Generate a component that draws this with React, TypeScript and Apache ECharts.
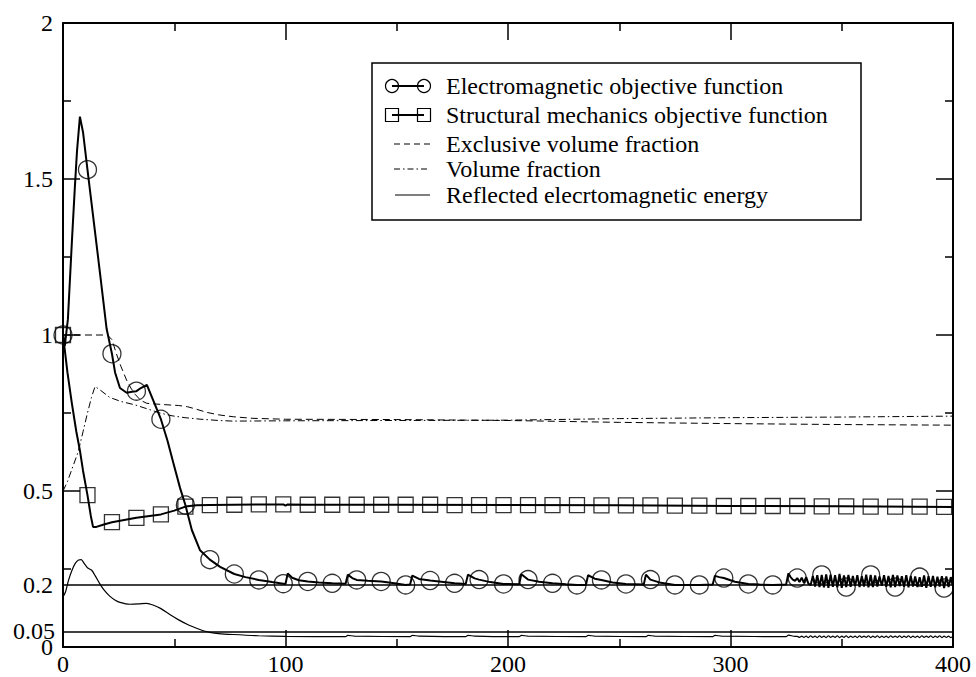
import React, { useEffect, useRef } from "react";
import * as echarts from "echarts";

const FONT = "Liberation Serif";

// axis ranges
const xRange = [0, 400];
const xStep = 100;
const yRange = [0, 2];
const yStep = 0.5;

// reference levels drawn as horizontal lines with their own labels
const refLevels = [0.2, 0.05];
const refLabels = ["0.2", "0.05"];

const legendLabels = [
  "Electromagnetic objective function",
  "Structural mechanics objective function",
  "Exclusive volume fraction",
  "Volume fraction",
  "Reflected elecrtomagnetic energy",
];

// Electromagnetic objective function (line key points, iteration -> value)
const emHead: [number, number][] = [
  [0, 1.0], [0.8, 0.965], [2.2, 1.05], [4, 1.3], [5.3, 1.47], [6.3, 1.59], [7.6, 1.7],
  [9, 1.65], [11, 1.53], [12.7, 1.43], [14.4, 1.33], [16.6, 1.2], [19.6, 1.02], [22, 0.94],
  [23.4, 0.88], [25.6, 0.83], [28.6, 0.815], [31, 0.818], [33, 0.82], [35, 0.83], [37.7, 0.84],
  [40.6, 0.79], [44, 0.73], [47, 0.66], [49.6, 0.59], [52.6, 0.51], [55, 0.455], [57.9, 0.375],
  [61.6, 0.31], [66, 0.28], [70.6, 0.257], [77, 0.234], [82, 0.224], [88, 0.215], [94, 0.208],
  [99, 0.203], [100, 0.202], [101, 0.236], [103, 0.222], [106, 0.214], [110, 0.21], [115, 0.207],
  [121, 0.204], [127, 0.203], [128, 0.232], [130, 0.221], [132, 0.215], [137, 0.212], [143, 0.21],
  [149, 0.204], [154, 0.199], [156, 0.2], [157, 0.229], [160, 0.218], [165, 0.213], [170, 0.209],
  [176, 0.204], [181, 0.202], [182, 0.232], [185, 0.22], [187, 0.216], [192, 0.208], [198, 0.202],
  [205, 0.201], [206, 0.233], [208, 0.222], [209, 0.216], [214, 0.209], [220, 0.204], [226, 0.201],
  [231, 0.199], [235, 0.199], [236, 0.23], [239, 0.219], [242, 0.215], [247, 0.207], [253, 0.202],
  [261, 0.2], [262, 0.232], [264, 0.216], [268, 0.207], [275, 0.199], [280, 0.199], [286, 0.199],
  [292, 0.2], [293, 0.228], [295, 0.224], [297, 0.221], [302, 0.209], [308, 0.202], [313, 0.2],
  [319, 0.199], [325, 0.2], [326, 0.236], [327, 0.224], [328, 0.216],
];
const emTailStart = 329;
const emTail = [
  0.212, 0.221, 0.208, 0.222, 0.206, 0.224, 0.203, 0.198, 0.228, 0.194, 0.23, 0.192,
  0.231, 0.191, 0.233, 0.19, 0.232, 0.193, 0.23, 0.191, 0.234, 0.19, 0.229, 0.192,
  0.231, 0.193, 0.228, 0.195, 0.23, 0.192, 0.227, 0.194, 0.232, 0.191, 0.231, 0.192,
  0.229, 0.194, 0.226, 0.196, 0.23, 0.193, 0.228, 0.191, 0.231, 0.192, 0.229, 0.195,
  0.227, 0.193, 0.23, 0.191, 0.228, 0.194, 0.226, 0.192, 0.224, 0.193, 0.229, 0.19,
  0.227, 0.193, 0.228, 0.191, 0.225, 0.194, 0.227, 0.189, 0.226, 0.192, 0.224, 0.195,
];
const markX = [
  0, 11, 22, 33, 44, 55, 66, 77, 88, 99, 110, 121, 132, 143, 154, 165, 176, 187, 198,
  209, 220, 231, 242, 253, 264, 275, 286, 297, 308, 319, 330, 341, 352, 363, 374, 385, 396,
];
const emMarkY = [
  1.0, 1.53, 0.94, 0.82, 0.73, 0.455, 0.28, 0.234, 0.215, 0.203, 0.21, 0.204, 0.215, 0.21,
  0.199, 0.213, 0.204, 0.216, 0.202, 0.216, 0.204, 0.199, 0.215, 0.202, 0.216, 0.199, 0.199,
  0.221, 0.202, 0.199, 0.221, 0.231, 0.192, 0.231, 0.192, 0.224, 0.189,
];

// Structural mechanics objective function
const smLine: [number, number][] = [
  [0, 1.0], [1, 0.94], [2, 0.88], [4, 0.78], [6, 0.69], [7.6, 0.63], [9, 0.565], [11, 0.487],
  [12.5, 0.42], [13.5, 0.385], [15, 0.385], [18, 0.392], [22, 0.4], [33, 0.414], [44, 0.425],
  [50, 0.437], [55, 0.45], [60, 0.454], [66, 0.455], [77, 0.456], [88, 0.457], [99, 0.457],
  [100, 0.453], [101, 0.457], [110, 0.456], [150, 0.456], [200, 0.455], [250, 0.454],
  [300, 0.452], [350, 0.451], [400, 0.449],
];
const smMarkY = [
  1.0, 0.487, 0.4, 0.414, 0.425, 0.45, 0.455, 0.456, 0.457, 0.457, 0.456, 0.456, 0.456, 0.456,
  0.456, 0.456, 0.455, 0.455, 0.455, 0.455, 0.455, 0.455, 0.454, 0.454, 0.454, 0.453, 0.453,
  0.452, 0.452, 0.452, 0.452, 0.451, 0.451, 0.45, 0.45, 0.45, 0.449,
];

// Exclusive volume fraction
const exclLine: [number, number][] = [
  [0, 1.0], [20, 1.0], [22, 0.985], [24, 0.94], [26, 0.9], [28.6, 0.855], [30.5, 0.83],
  [32.4, 0.81], [35, 0.79], [37.7, 0.781], [45, 0.777], [52, 0.774], [56, 0.77], [60, 0.762],
  [64.6, 0.752], [70, 0.744], [76.5, 0.738], [85, 0.733], [100, 0.73], [150, 0.729],
  [200, 0.726], [250, 0.72], [300, 0.716], [350, 0.713], [400, 0.711],
];

// Volume fraction
const volLine: [number, number][] = [
  [0, 0.5], [2, 0.53], [4, 0.57], [6.8, 0.625], [9, 0.69], [11, 0.75], [12.8, 0.8],
  [14.4, 0.835], [17, 0.822], [21, 0.8], [26, 0.787], [32.4, 0.776], [38, 0.763],
  [43.6, 0.75], [49, 0.741], [54.8, 0.735], [62, 0.73], [70, 0.726], [76.4, 0.724],
  [100, 0.725], [150, 0.726], [200, 0.727], [250, 0.732], [300, 0.735], [350, 0.737],
  [400, 0.74],
];

// Reflected electromagnetic energy
const refHead: [number, number][] = [
  [0, 0.16], [1.2, 0.178], [2.4, 0.212], [4, 0.245], [5.5, 0.268], [7, 0.279], [8.2, 0.28],
  [9.5, 0.268], [11, 0.254], [12.9, 0.246], [14.5, 0.228], [16.5, 0.203], [18.5, 0.182],
  [21, 0.163], [23.5, 0.15], [25.6, 0.143], [30, 0.137], [34, 0.138], [37.6, 0.14],
  [41, 0.133], [44, 0.123], [48, 0.104], [52, 0.087], [56, 0.072], [60, 0.06], [63, 0.052],
  [66, 0.047], [70, 0.043], [76.4, 0.04], [88, 0.036], [100, 0.034], [127, 0.033],
  [128, 0.037], [131, 0.035], [156, 0.033], [157, 0.037], [160, 0.035], [181, 0.033],
  [182, 0.037], [185, 0.035], [205, 0.033], [206, 0.037], [209, 0.035], [235, 0.033],
  [236, 0.037], [239, 0.035], [262, 0.033], [263, 0.037], [266, 0.035], [292, 0.033],
  [293, 0.037], [296, 0.035], [325, 0.033], [326, 0.038], [329, 0.034],
];
const refTailStart = 330;
const refTail = [
  0.034, 0.031, 0.035, 0.031, 0.035, 0.03, 0.036, 0.031, 0.035, 0.03, 0.036, 0.031,
  0.035, 0.03, 0.036, 0.031, 0.035, 0.031, 0.036, 0.03, 0.035, 0.031, 0.036, 0.03,
  0.035, 0.031, 0.035, 0.03, 0.036, 0.031, 0.035, 0.031, 0.036, 0.03, 0.035, 0.031,
  0.036, 0.03, 0.035, 0.031, 0.035, 0.03, 0.036, 0.031, 0.035, 0.031, 0.036, 0.03,
  0.035, 0.031, 0.036, 0.03, 0.035, 0.031, 0.035, 0.03, 0.036, 0.031, 0.035, 0.031,
  0.036, 0.03, 0.035, 0.031, 0.036, 0.03, 0.035, 0.031, 0.035, 0.03, 0.034,
];

const BLACK = "#000";

function axisCommon(showLabels: boolean, isX: boolean) {
  return {
    type: "value" as const,
    min: isX ? xRange[0] : yRange[0],
    max: isX ? xRange[1] : yRange[1],
    interval: isX ? xStep : yStep,
    axisLine: { show: true, onZero: false, lineStyle: { color: BLACK, width: 2 } },
    axisTick: { show: true, inside: true, length: 17, lineStyle: { color: BLACK, width: 1.5 } },
    minorTick: { show: true, splitNumber: 2, length: 8, lineStyle: { color: BLACK, width: 1.5 } },
    splitLine: { show: false },
    minorSplitLine: { show: false },
    axisLabel: {
      show: showLabels,
      color: BLACK,
      fontFamily: FONT,
      fontSize: 24,
      margin: isX ? 5 : 10,
    },
  };
}

export default function App() {
  const ref = useRef<HTMLDivElement>(null);

  useEffect(() => {
    document.body.style.margin = "0";
    if (!ref.current) return;
    const chart = echarts.init(ref.current, undefined, { renderer: "svg" });

    const emData = emHead.concat(emTail.map((v, i) => [emTailStart + i, v] as [number, number]));
    const refData = refHead.concat(refTail.map((v, i) => [refTailStart + i, v] as [number, number]));
    const emMarks = markX.map((x, i) => [x, emMarkY[i]]);
    const smMarks = markX.map((x, i) => [x, smMarkY[i]]);

    const hollow = { color: "rgba(0,0,0,0)", borderColor: BLACK, borderWidth: 1.3 };

    // legend drawn as graphic elements
    const LX = 372, LY = 63, LW = 489, LH = 157;
    const rowY = [86, 115, 144, 169, 195];
    const iconA = 392, iconB = 424, textX = 446;
    const g: any[] = [
      { type: "rect", z: 100, shape: { x: LX, y: LY, width: LW, height: LH }, style: { fill: "#fff", stroke: BLACK, lineWidth: 1.5 } },
      { type: "line", z: 101, shape: { x1: iconA, y1: rowY[0], x2: iconB, y2: rowY[0] }, style: { stroke: BLACK, lineWidth: 2 } },
      { type: "circle", z: 101, shape: { cx: iconA, cy: rowY[0], r: 6.5 }, style: { fill: "none", stroke: BLACK, lineWidth: 1.2 } },
      { type: "circle", z: 101, shape: { cx: iconB, cy: rowY[0], r: 6.5 }, style: { fill: "none", stroke: BLACK, lineWidth: 1.2 } },
      { type: "line", z: 101, shape: { x1: iconA, y1: rowY[1], x2: iconB, y2: rowY[1] }, style: { stroke: BLACK, lineWidth: 2 } },
      { type: "rect", z: 101, shape: { x: iconA - 6.5, y: rowY[1] - 6.5, width: 13, height: 13 }, style: { fill: "none", stroke: BLACK, lineWidth: 1.2 } },
      { type: "rect", z: 101, shape: { x: iconB - 6.5, y: rowY[1] - 6.5, width: 13, height: 13 }, style: { fill: "none", stroke: BLACK, lineWidth: 1.2 } },
      { type: "line", z: 101, shape: { x1: iconA + 2, y1: rowY[2], x2: iconB + 6, y2: rowY[2] }, style: { stroke: BLACK, lineWidth: 1, lineDash: [6, 4] } },
      { type: "line", z: 101, shape: { x1: iconA + 2, y1: rowY[3], x2: iconB + 6, y2: rowY[3] }, style: { stroke: BLACK, lineWidth: 1, lineDash: [6, 3, 1.5, 3] } },
      { type: "line", z: 101, shape: { x1: iconA + 3, y1: rowY[4], x2: iconB + 6, y2: rowY[4] }, style: { stroke: BLACK, lineWidth: 1.2 } },
    ];
    legendLabels.forEach((t, i) => {
      g.push({
        type: "text",
        z: 101,
        x: textX,
        y: rowY[i],
        style: { text: t, fill: BLACK, fontFamily: FONT, fontSize: 24, verticalAlign: "middle", align: "left" },
      });
    });

    chart.setOption({
      animation: false,
      backgroundColor: "#fff",
      textStyle: { fontFamily: FONT },
      grid: { left: 63, right: 23, top: 23, bottom: 30, containLabel: false },
      xAxis: [
        { ...axisCommon(true, true), position: "bottom" },
        { ...axisCommon(false, true), position: "top" },
      ],
      yAxis: [
        { ...axisCommon(true, false), position: "left" },
        { ...axisCommon(false, false), position: "right" },
      ],
      graphic: g,
      series: [
        {
          type: "line",
          name: legendLabels[4],
          data: refData,
          showSymbol: false,
          smooth: 0.25,
          lineStyle: { color: BLACK, width: 1.2 },
          markLine: {
            silent: true,
            symbol: ["none", "none"],
            animation: false,
            lineStyle: { color: BLACK, width: 1.5, type: "solid" },
            data: refLevels.map((v, i) => ({
              yAxis: v,
              label: {
                show: true,
                position: "start",
                formatter: refLabels[i],
                color: BLACK,
                fontFamily: FONT,
                fontSize: 24,
                distance: i === 0 ? 10 : 8,
              },
            })),
          },
        },
        {
          type: "line",
          name: legendLabels[2],
          data: exclLine,
          showSymbol: false,
          lineStyle: { color: BLACK, width: 1, type: [7, 4] },
        },
        {
          type: "line",
          name: legendLabels[3],
          data: volLine,
          showSymbol: false,
          lineStyle: { color: BLACK, width: 1, type: [7, 3, 1.5, 3] },
        },
        {
          type: "line",
          name: legendLabels[1],
          data: smLine,
          showSymbol: false,
          lineStyle: { color: BLACK, width: 2 },
        },
        {
          type: "scatter",
          data: smMarks,
          symbol: "rect",
          symbolSize: 15,
          clip: false,
          silent: true,
          itemStyle: hollow,
        },
        {
          type: "line",
          name: legendLabels[0],
          data: emData,
          showSymbol: false,
          lineStyle: { color: BLACK, width: 2 },
        },
        {
          type: "scatter",
          data: emMarks,
          symbol: "circle",
          symbolSize: 18,
          clip: false,
          silent: true,
          itemStyle: hollow,
        },
      ],
    });

    return () => chart.dispose();
  }, []);

  return <div ref={ref} style={{ width: 976, height: 677 }} />;
}
